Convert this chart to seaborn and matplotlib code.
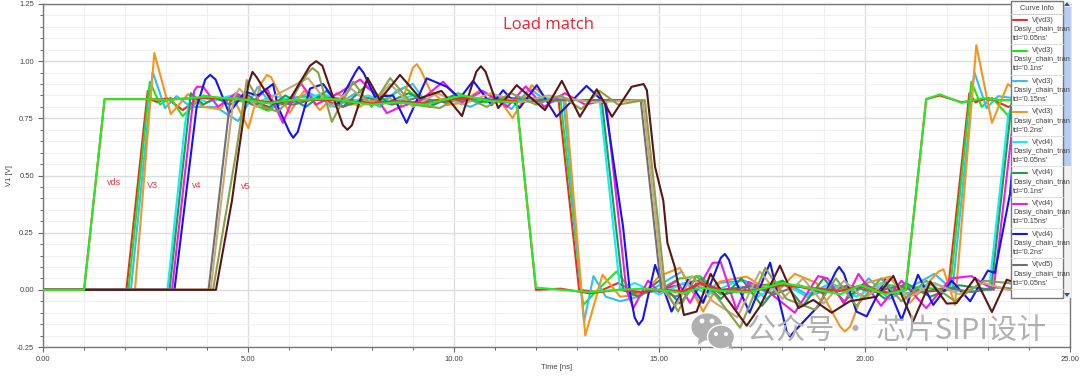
#!/usr/bin/env python
"""
Daisy chain transient, load match: V(vds), V(vd3), V(vd4), V(vd5) per td
"""
import pandas as pd
import matplotlib
matplotlib.use("Agg")
import matplotlib.pyplot as plt
from matplotlib.patches import Ellipse, Polygon, Rectangle
from matplotlib.ticker import MultipleLocator, FormatStrFormatter
import seaborn as sns

# source node, two nearly identical curves
t_vds_a = [0, 1.0, 1.5, 2.6, 3.0, 4.0, 5.0, 5.5, 6.0, 7.0, 8.0, 8.6, 9.3, 10.2, 10.9, 11.53, 12.0, 12.6, 13.3, 14.0, 14.6, 15.0, 15.6, 16.0, 16.5, 17.2, 18.0, 18.6, 19.4, 19.9, 20.5, 21.0, 21.5, 21.83, 22.36, 22.88, 23.3, 25.0]
v_vds_a = [0, 0, 0.834, 0.834, 0.83, 0.845, 0.83, 0.815, 0.83, 0.835, 0.81, 0.82, 0.81, 0.85, 0.825, 0.82, 0.01, 0.0, -0.01, 0.0, 0.005, 0.0, -0.015, 0.01, -0.005, -0.01, 0.03, 0.01, -0.02, 0.02, -0.02, 0.0, 0.834, 0.855, 0.818, 0.838, 0.83, 0.83]
t_vds_b = [0, 1.0, 1.5, 2.6, 3.0, 4.0, 5.0, 5.5, 6.0, 7.0, 8.0, 8.6, 9.3, 10.2, 10.9, 11.53, 12.0, 12.6, 13.3, 14.0, 14.6, 15.0, 15.6, 16.0, 16.5, 17.2, 18.0, 18.6, 19.4, 19.9, 20.5, 21.0, 21.5, 21.83, 22.36, 22.88, 23.3, 25.0]
v_vds_b = [0, 0, 0.834, 0.834, 0.832, 0.84, 0.832, 0.82, 0.83, 0.83, 0.815, 0.825, 0.815, 0.84, 0.83, 0.825, 0.0, 0.005, -0.015, 0.0, -0.01, 0.0, -0.005, 0.03, 0.0, -0.005, 0.02, 0.01, -0.005, 0.015, -0.015, 0.0, 0.834, 0.85, 0.82, 0.835, 0.83, 0.83]

# V(vd3)
t_vd3_005 = [0, 2.03, 2.55, 2.65, 2.8, 3.0, 3.4, 3.8, 4.5, 5.0, 5.5, 6.0, 7.0, 8.0, 9.0, 10.2, 11.0, 12.5, 12.55, 13.05, 13.5, 14.0, 14.5, 15.0, 15.9, 16.5, 18.0, 19.0, 20.0, 20.7, 22.03, 22.55, 22.7, 23.0, 23.5, 24.0, 25.0]
v_vd3_005 = [0, 0, 0.87, 0.83, 0.82, 0.84, 0.786, 0.84, 0.83, 0.83, 0.80, 0.82, 0.84, 0.82, 0.82, 0.84, 0.83, 0.83, 0.83, 0.0, -0.01, 0.03, -0.02, 0.0, 0.04, 0.0, 0.03, -0.01, 0.02, -0.02, 0.0, 0.86, 0.82, 0.84, 0.80, 0.83, 0.83]
t_vd3_010 = [0, 2.08, 2.6, 2.85, 3.1, 3.4, 3.9, 4.6, 5.0, 5.48, 6.0, 6.8, 7.5, 8.3, 8.8, 9.4, 10.1, 10.7, 11.5, 12.6, 13.1, 13.15, 13.5, 13.96, 14.4, 15.0, 15.5, 16.0, 16.5, 17.2, 18.0, 18.6, 19.4, 20.0, 20.6, 22.08, 22.6, 22.85, 23.1, 23.5, 24.0, 25.0]
v_vd3_010 = [0, 0, 0.91, 0.81, 0.84, 0.76, 0.85, 0.83, 0.82, 0.783, 0.84, 0.85, 0.81, 0.83, 0.885, 0.80, 0.86, 0.82, 0.83, 0.83, 0.0, -0.066, 0.0, 0.08, -0.02, 0.0, 0.05, 0.06, -0.02, 0.0, 0.04, -0.03, 0.02, -0.03, 0.02, 0.0, 0.91, 0.80, 0.84, 0.76, 0.83, 0.83]
t_vd3_015 = [0, 2.14, 2.67, 2.97, 3.25, 3.6, 4.2, 4.75, 5.23, 5.6, 6.0, 6.5, 7.1, 7.6, 8.2, 8.6, 9.0, 9.4, 9.9, 10.4, 11.0, 11.4, 11.85, 12.3, 12.67, 13.17, 13.4, 13.7, 14.05, 14.5, 15.0, 15.55, 16.0, 16.4, 17.1, 17.6, 18.1, 18.6, 19.2, 19.7, 20.1, 20.6, 21.0, 21.7, 22.14, 22.67, 22.97, 23.25, 24.0, 25.0]
v_vd3_015 = [0, 0, 0.953, 0.795, 0.847, 0.80, 0.80, 0.738, 0.888, 0.80, 0.83, 0.86, 0.80, 0.86, 0.80, 0.87, 0.90, 0.80, 0.84, 0.80, 0.85, 0.79, 0.88, 0.82, 0.83, -0.14, 0.06, -0.03, -0.05, -0.03, 0.02, 0.08, -0.06, 0.03, 0.04, -0.04, 0.03, -0.02, 0.03, -0.03, 0.05, -0.04, 0.0, 0.07, 0.0, 0.953, 0.795, 0.847, 0.83, 0.83]
t_vd3_020 = [0, 2.24, 2.71, 3.11, 3.53, 3.9, 4.3, 4.6, 5.0, 5.3, 5.45, 5.55, 6.0, 6.35, 6.74, 7.15, 7.7, 8.3, 8.7, 9.0, 9.1, 9.2, 9.42, 9.83, 10.15, 10.64, 11.12, 11.43, 11.9, 12.26, 12.72, 13.2, 13.62, 14.05, 14.6, 15.0, 15.5, 16.07, 16.48, 17.13, 17.8, 18.3, 18.83, 19.4, 19.52, 19.65, 20.05, 20.62, 21.1, 21.8, 21.92, 22.2, 22.72, 23.1, 23.49, 24.0, 25.0]
v_vd3_020 = [0, 0, 1.036, 0.768, 0.856, 0.80, 0.79, 0.85, 0.707, 0.90, 0.94, 0.93, 0.773, 0.87, 0.786, 0.86, 0.80, 0.86, 0.80, 0.97, 0.987, 0.96, 0.873, 0.808, 0.816, 0.873, 0.83, 0.751, 0.895, 0.838, 0.83, -0.2, 0.066, -0.03, -0.02, 0.06, 0.096, -0.095, 0.036, 0.058, -0.02, 0.07, 0.03, -0.16, -0.182, -0.16, 0.03, 0.058, -0.057, 0.08, 0.09, -0.066, 1.07, 0.73, 0.90, 0.83, 0.83]

# V(vd4)
t_vd4_005 = [0, 3.03, 3.46, 3.6, 4.0, 4.6, 5.1, 5.6, 6.2, 6.8, 7.4, 7.9, 8.5, 9.0, 9.6, 10.3, 11.0, 12.0, 13.0, 13.55, 14.05, 14.4, 15.0, 15.6, 16.2, 16.8, 17.4, 18.0, 18.6, 19.2, 19.8, 20.4, 21.0, 21.6, 22.4, 23.03, 23.49, 23.65, 24.0, 25.0]
v_vd4_005 = [0, 0, 0.73, 0.85, 0.82, 0.85, 0.81, 0.85, 0.82, 0.86, 0.81, 0.85, 0.82, 0.85, 0.82, 0.84, 0.82, 0.84, 0.83, 0.83, 0.0, 0.03, -0.02, 0.03, -0.02, 0.03, -0.03, 0.03, -0.03, 0.02, -0.03, 0.03, -0.02, 0.03, -0.01, 0.0, 0.755, 0.85, 0.83, 0.83]
t_vd4_010 = [0, 3.08, 3.6, 3.9, 4.2, 4.55, 5.0, 5.45, 5.9, 6.4, 6.9, 7.3, 7.85, 8.4, 8.9, 9.5, 10.0, 10.6, 11.2, 12.4, 13.6, 14.12, 14.5, 15.0, 15.5, 16.0, 16.5, 17.0, 17.5, 18.0, 18.5, 19.0, 19.5, 20.0, 20.5, 21.0, 21.6, 22.3, 23.08, 23.6, 24.0, 25.0]
v_vd4_010 = [0, 0, 0.86, 0.81, 0.84, 0.81, 0.85, 0.79, 0.85, 0.80, 0.87, 0.80, 0.89, 0.82, 0.86, 0.81, 0.85, 0.82, 0.84, 0.83, 0.83, 0.0, -0.03, 0.04, -0.06, 0.05, -0.04, 0.05, -0.07, 0.04, -0.07, 0.05, -0.05, 0.03, -0.04, 0.03, -0.03, 0.02, 0.0, 0.85, 0.83, 0.83]
t_vd4_015 = [0, 3.14, 3.68, 3.75, 3.9, 4.26, 4.7, 5.1, 5.45, 5.84, 6.25, 6.65, 7.2, 7.72, 8.0, 8.37, 8.7, 9.2, 9.74, 10.2, 10.7, 11.3, 11.75, 12.2, 12.7, 13.2, 13.7, 14.2, 14.37, 14.73, 15.0, 15.43, 15.75, 16.3, 16.5, 16.88, 17.17, 17.6, 18.3, 18.87, 19.1, 19.5, 19.85, 20.4, 20.9, 21.5, 22.1, 22.6, 23.14, 23.7, 24.0, 25.0]
v_vd4_015 = [0, 0, 0.87, 0.888, 0.888, 0.80, 0.86, 0.82, 0.88, 0.73, 0.91, 0.81, 0.86, 0.92, 0.87, 0.773, 0.80, 0.83, 0.91, 0.82, 0.87, 0.80, 0.89, 0.80, 0.86, 0.81, 0.83, 0.0, -0.08, 0.04, -0.01, 0.04, -0.057, 0.118, 0.12, -0.087, 0.035, 0.0, -0.10, 0.06, 0.05, -0.06, 0.07, -0.07, 0.04, -0.08, 0.05, 0.06, 0.0, 0.87, 0.83, 0.83]
t_vd4_020 = [0, 3.2, 3.74, 3.95, 4.07, 4.2, 4.53, 4.92, 5.23, 5.6, 5.72, 6.0, 6.09, 6.2, 6.5, 6.82, 7.18, 7.6, 7.69, 7.8, 8.08, 8.52, 8.85, 9.34, 9.83, 10.15, 10.47, 10.92, 11.2, 11.6, 12.02, 12.5, 13.23, 13.68, 14.12, 14.29, 14.4, 14.5, 14.6, 14.9, 15.3, 15.7, 16.07, 16.5, 16.6, 16.7, 16.88, 17.2, 17.7, 18.1, 18.18, 18.3, 18.9, 19.3, 19.38, 19.5, 19.8, 20.05, 20.5, 20.9, 21.3, 21.67, 22.12, 22.57, 23.0, 23.17, 23.54, 23.75, 24.0, 25.0]
v_vd4_020 = [0, 0, 0.80, 0.92, 0.94, 0.92, 0.773, 0.866, 0.85, 0.90, 0.80, 0.69, 0.665, 0.69, 0.88, 0.90, 0.81, 0.95, 0.975, 0.95, 0.844, 0.85, 0.73, 0.925, 0.888, 0.838, 0.914, 0.808, 0.873, 0.795, 0.895, 0.757, 0.892, 0.816, 0.276, -0.013, -0.12, -0.153, -0.13, 0.109, -0.095, 0.044, -0.057, 0.14, 0.157, 0.13, 0.03, -0.10, 0.119, -0.18, -0.204, -0.18, -0.066, 0.08, 0.10, 0.07, -0.095, -0.116, 0.044, -0.131, 0.066, -0.066, 0.04, -0.05, 0.084, 0.074, 0.42, 0.85, 0.83, 0.83]

# V(vd5)
t_vd5_005 = [0, 4.03, 4.55, 4.7, 5.1, 5.6, 6.1, 6.7, 7.3, 7.9, 8.5, 9.1, 9.8, 10.5, 11.3, 12.5, 14.55, 15.05, 15.4, 16.0, 16.6, 17.2, 17.8, 18.4, 19.0, 19.6, 20.2, 20.8, 21.4, 22.0, 22.6, 23.2, 24.03, 25.0]
v_vd5_005 = [0, 0, 0.82, 0.85, 0.81, 0.82, 0.81, 0.84, 0.80, 0.84, 0.81, 0.84, 0.82, 0.84, 0.82, 0.83, 0.83, 0.0, -0.03, 0.025, -0.02, 0.02, -0.02, 0.02, -0.015, 0.02, -0.01, 0.015, -0.01, 0.01, -0.01, 0.01, 0.0, 0.83]
t_vd5_010 = [0, 4.08, 4.64, 4.78, 5.2, 5.65, 6.45, 7.0, 7.5, 8.0, 8.45, 9.0, 9.6, 10.2, 10.9, 11.6, 12.3, 13.4, 14.6, 15.1, 15.4, 15.8, 16.3, 16.9, 17.45, 18.0, 18.5, 19.0, 19.5, 20.0, 20.6, 21.1, 21.7, 22.3, 22.9, 23.5, 24.08, 25.0]
v_vd5_010 = [0, 0, 0.84, 0.88, 0.80, 0.85, 0.926, 0.80, 0.88, 0.81, 0.90, 0.80, 0.86, 0.81, 0.86, 0.82, 0.85, 0.82, 0.83, 0.0, -0.07, 0.06, -0.05, -0.12, 0.08, -0.04, 0.05, -0.06, 0.04, -0.04, 0.05, -0.03, 0.03, -0.02, 0.03, 0.0, 0.0, 0.83]
t_vd5_015 = [0, 4.14, 4.7, 4.96, 5.35, 5.72, 6.1, 6.45, 6.56, 6.7, 7.03, 7.55, 8.0, 8.45, 9.0, 9.66, 10.2, 10.8, 11.4, 12.0, 12.6, 13.1, 13.55, 14.0, 14.65, 15.15, 15.46, 15.9, 16.4, 16.97, 17.58, 18.1, 18.79, 19.3, 19.8, 20.4, 20.9, 21.5, 22.2, 22.9, 23.5, 24.14, 25.0]
v_vd5_015 = [0, 0, 0.60, 0.917, 0.80, 0.779, 0.85, 0.95, 0.97, 0.95, 0.735, 0.91, 0.80, 0.926, 0.81, 0.795, 0.85, 0.80, 0.86, 0.81, 0.85, 0.79, 0.87, 0.81, 0.83, 0.0, -0.095, 0.06, -0.03, -0.166, 0.096, -0.04, -0.087, 0.05, -0.07, 0.05, -0.05, 0.04, -0.05, 0.04, 0.03, 0.0, 0.83]
t_vd5_020 = [0, 4.21, 4.6, 4.76, 5.0, 5.1, 5.2, 5.6, 6.0, 6.5, 6.65, 6.8, 7.3, 7.41, 7.52, 7.9, 8.2, 8.69, 9.18, 9.7, 10.2, 10.55, 10.66, 10.77, 11.08, 11.53, 12.22, 12.63, 13.07, 13.48, 13.85, 14.33, 14.62, 14.7, 14.9, 15.1, 15.2, 15.38, 15.6, 15.91, 16.25, 16.52, 17.13, 17.45, 17.94, 18.39, 18.75, 19.2, 19.64, 20.29, 20.7, 21.18, 21.6, 22.0, 22.24, 22.69, 23.1, 23.46, 24.21, 25.0]
v_vd5_020 = [0, 0, 0.39, 0.60, 0.90, 0.953, 0.93, 0.815, 0.83, 0.98, 1.0, 0.98, 0.72, 0.70, 0.72, 0.927, 0.83, 0.94, 0.838, 0.87, 0.76, 0.955, 0.978, 0.955, 0.795, 0.895, 0.786, 0.914, 0.757, 0.877, 0.757, 0.888, 0.90, 0.873, 0.537, 0.39, 0.205, 0.10, -0.11, -0.095, 0.07, -0.007, -0.157, -0.073, 0.106, -0.08, -0.044, -0.1, -0.05, -0.03, 0.061, -0.138, 0.036, -0.06, -0.058, 0.052, -0.097, 0.044, 0.0, 0.83]

names = ["vd3_005", "vd3_010", "vd3_015", "vd3_020", "vd4_005", "vd4_010", "vd4_015", "vd4_020",
         "vd5_005", "vd5_010", "vd5_015", "vd5_020", "vds_b", "vds_a"]
times = [t_vd3_005, t_vd3_010, t_vd3_015, t_vd3_020, t_vd4_005, t_vd4_010, t_vd4_015, t_vd4_020,
         t_vd5_005, t_vd5_010, t_vd5_015, t_vd5_020, t_vds_b, t_vds_a]
values = [v_vd3_005, v_vd3_010, v_vd3_015, v_vd3_020, v_vd4_005, v_vd4_010, v_vd4_015, v_vd4_020,
          v_vd5_005, v_vd5_010, v_vd5_015, v_vd5_020, v_vds_b, v_vds_a]
colors = ["#ee2a2a", "#19e619", "#35bdf5", "#f7941d", "#12ecf2", "#1f9a55", "#f516e8", "#1414f0",
          "#707070", "#c8a878", "#88a04a", "#5a1616", "#ee2a2a", "#22ee22"]

legend_nodes = ["V(vd3)", "V(vd3)", "V(vd3)", "V(vd3)", "V(vd4)", "V(vd4)", "V(vd4)", "V(vd4)", "V(vd5)"]
legend_tds = ["td='0.05ns'", "td='0.1ns'", "td='0.15ns'", "td='0.2ns'", "td='0.05ns'", "td='0.1ns'",
              "td='0.15ns'", "td='0.2ns'", "td='0.05ns'"]

sns.set_theme(style="white")
plt.rcParams['font.family'] = ['Liberation Sans', 'DejaVu Sans']

rows = []
for name, t, v in zip(names, times, values):
    rows.append(pd.DataFrame({"time": t, "volt": v, "curve": name}))
df = pd.concat(rows, ignore_index=True)

fig = plt.figure(figsize=(10.8, 3.76), dpi=100)
ax = fig.add_axes([43 / 1080, 1 - 347 / 376, (1070 - 43) / 1080, (347 - 4) / 376])

sns.lineplot(data=df, x="time", y="volt", hue="curve", hue_order=names, palette=dict(zip(names, colors)),
             estimator=None, sort=False, linewidth=1.5, legend=False, ax=ax, zorder=3,
             solid_joinstyle="round")

ax.set_xlim(0, 25)
ax.set_ylim(-0.25, 1.25)
ax.xaxis.set_major_locator(MultipleLocator(5))
ax.xaxis.set_minor_locator(MultipleLocator(1))
ax.yaxis.set_major_locator(MultipleLocator(0.25))
ax.yaxis.set_minor_locator(MultipleLocator(0.05))
ax.xaxis.set_major_formatter(FormatStrFormatter("%.2f"))
ax.yaxis.set_major_formatter(FormatStrFormatter("%.2f"))
ax.grid(which="major", color="#dcdcdc", linewidth=1.0)
ax.grid(which="minor", color="#f0f0f0", linewidth=0.8)
ax.set_axisbelow(True)
ax.tick_params(axis="both", which="major", bottom=True, left=True, length=3.5, width=0.8, color="#666666",
               labelsize=5.5, labelcolor="#444444", pad=3)
ax.tick_params(axis="both", which="minor", bottom=True, left=True, length=2.5, width=0.7, color="#666666")
ax.set_xlabel("Time [ns]", fontsize=5.5, color="#444444", labelpad=1)
ax.set_ylabel("V1 [V]", fontsize=5.5, color="#444444", labelpad=3)
for side in ax.spines:
    ax.spines[side].set_color("#777777")
    ax.spines[side].set_linewidth(1.0)

ax.text(12.3, 1.157, "Load match", color="#ee2233", fontsize=12, family="Open Sans", ha="center", va="center")
ax.text(1.73, 0.47, "vds", color="#ee3344", fontsize=6.5, ha="center", va="center")
ax.text(2.66, 0.455, "V3", color="#ee3344", fontsize=6.5, ha="center", va="center")
ax.text(3.75, 0.455, "v4", color="#ee3344", fontsize=6.5, ha="center", va="center")
ax.text(4.94, 0.45, "v5", color="#ee3344", fontsize=6.5, ha="center", va="center")

# overlay in pixel coordinates: curve info panel and watermark
ov = fig.add_axes([0, 0, 1, 1], zorder=5)
ov.set_xlim(0, 1080)
ov.set_ylim(376, 0)
ov.axis("off")
ov.patch.set_alpha(0)

ov.add_patch(Rectangle((1063, 1), 8, 297, facecolor="#f1f1f1", edgecolor="none"))
ov.add_patch(Rectangle((1063, 7), 8, 159, facecolor="#b9cdf0", edgecolor="none"))
ov.add_patch(Polygon([[1064, 6], [1067, 2], [1070, 6]], facecolor="#2a4fc0", edgecolor="none"))
ov.add_patch(Polygon([[1064, 293], [1067, 297], [1070, 293]], facecolor="#2a4fc0", edgecolor="none"))
ov.add_patch(Rectangle((1011, 1), 52, 297, facecolor="white", edgecolor="#777777", linewidth=1.0))
ov.text(1037, 8, "Curve Info", fontsize=5.3, color="#444444", ha="center", va="center")
ov.plot([1011, 1063], [13.5, 13.5], color="#cccccc", linewidth=0.7)
for i, (node, td) in enumerate(zip(legend_nodes, legend_tds)):
    y = 20 + i * 30.6
    ov.plot([1013, 1027], [y, y], color=colors[i], linewidth=1.5)
    ov.text(1043, y, node, fontsize=5.3, color="#444444", ha="center", va="center")
    ov.text(1013, y + 9.3, "Dasiy_chain_tran", fontsize=5.3, color="#444444", ha="left", va="center")
    ov.text(1013, y + 18.3, td, fontsize=5.3, color="#444444", ha="left", va="center")
    ov.plot([1011, 1063], [y + 24, y + 24], color="#dddddd", linewidth=0.7)

gray = "#b0b0b0"
ov.add_patch(Ellipse((707, 327), 31, 27, facecolor=gray, edgecolor="none"))
ov.add_patch(Polygon([[699, 336], [698, 345], [708, 338]], facecolor=gray, edgecolor="none"))
ov.add_patch(Ellipse((721, 337), 27, 24, facecolor=gray, edgecolor="white", linewidth=1.0))
ov.add_patch(Polygon([[727, 345], [733, 350], [731, 341]], facecolor=gray, edgecolor="none"))
for x, y, r in [(702, 321, 2.4), (712, 321, 2.4), (716, 334, 2), (726, 334, 2)]:
    ov.add_patch(Ellipse((x, y), 2 * r, 2 * r, facecolor="white", edgecolor="none"))
ov.text(897, 332, "公众号 · 芯片SIPI设计", fontsize=21, color=gray, ha="center", va="center",
        family=["Noto Sans CJK SC", "DejaVu Sans"])

fig.savefig("out.png", dpi=100)
